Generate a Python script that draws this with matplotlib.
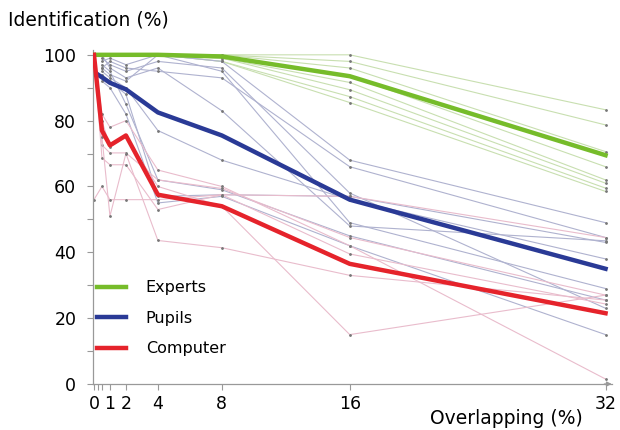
import numpy as np
import matplotlib
matplotlib.use("Agg")
import matplotlib.pyplot as plt

# ---------------------------
# Daten
# ---------------------------
x_full = [0, 0.5, 1, 2, 4, 8, 16, 32]
x_pupil = [0.5, 1, 2, 4, 8, 16, 32]
x_pupil_mean = [0.25, 1, 2, 4, 8, 16, 32]

experts_mean = [100, 100, 100, 100, 100, 99.5, 93.5, 69.5]
pupils_mean = [94, 91.5, 89.5, 82.5, 75.5, 56, 35]
computer_mean = [100, 77, 72.5, 75.5, 57.5, 54, 36.5, 21.5]

experts_single = [
    [100, 100, 100, 100, 100, 100, 100, 83.3],
    [100, 100, 100, 100, 100, 100, 98, 78.7],
    [100, 100, 100, 100, 100, 100, 96, 70.6],
    [100, 100, 100, 100, 100, 99, 93.6, 66],
    [100, 100, 100, 100, 100, 99, 91.6, 62],
    [100, 100, 100, 100, 100, 99, 89.4, 61],
    [100, 100, 100, 100, 100, 98, 87.3, 59.5],
    [100, 100, 100, 100, 100, 98, 85.5, 58.5],
]

pupils_single = [
    [98, 99, 97, 100, 98, 68, 49],
    [96, 98, 96, 95, 93, 66, 44.5],
    [100, 96, 93, 96, 83, 48, 43.5],
    [95, 93, 90, 77, 68, 56, 38],
    [97, 95, 85, 62, 59, 45, 25.5],
    [94, 92, 88, 57, 57.5, 57, 43],
    [92, 90, 82, 55, 57, 42, 15],
    [96, 94, 92, 100, 95, 49, 29],
    [99, 97, 95, 98, 96, 58, 23],
]

computer_single = [
    [56, 60, 56, 56, 56, 57.5, 57, 44.5],
    [100, 72.6, 70.2, 70.2, 62, 59.4, 44.5, 27],
    [100, 68.7, 66.6, 66.6, 53, 57.5, 39.5, 24.3],
    [100, 75, 51, 70, 43.6, 41.4, 33, 25.5],
    [100, 80, 72, 75, 60, 54, 15, 27],
    [100, 82, 78, 80, 65, 60, 42, 1.5],
]

xtick_pos = [0, 1, 2, 4, 8, 16, 32]
xtick_minor = [0.25, 0.5]

# ---------------------------
# Farben
# ---------------------------
c_exp, c_pup, c_com = '#76bc2a', '#2a3a96', '#e5232b'
c_exp_l, c_pup_l, c_com_l = '#c8dfb0', '#afb2cf', '#e9bccc'

fig = plt.figure(figsize=(6.2, 4.3), dpi=100)
ax = fig.add_axes([0.15, 0.107, 0.837, 0.777])

for vals in experts_single:
    ax.plot(x_full, vals, '-', color=c_exp_l, lw=0.8, marker='.', ms=2,
            mfc='#777', mec='#777', zorder=1)
for vals in pupils_single:
    ax.plot(x_pupil, vals, '-', color=c_pup_l, lw=0.8, marker='.', ms=2,
            mfc='#777', mec='#777', zorder=1)
for vals in computer_single:
    ax.plot(x_full, vals, '-', color=c_com_l, lw=0.8, marker='.', ms=2,
            mfc='#777', mec='#777', zorder=1)

ax.plot(x_full, experts_mean, color=c_exp, lw=3.2, label='Experts', zorder=3)
ax.plot(x_pupil_mean, pupils_mean, color=c_pup, lw=3.2, label='Pupils', zorder=3)
ax.plot(x_full, computer_mean, color=c_com, lw=3.2, label='Computer', zorder=3)

ax.set_xlim(-0.06, 32.4)
ax.set_ylim(0, 101.5)

ax.set_xticks(xtick_pos)
ax.set_xticks(xtick_minor, minor=True)
ax.set_xticklabels([str(v) for v in xtick_pos], fontsize=12.5)
ax.set_yticks(np.arange(0, 101, 20))
ax.set_yticks(np.arange(10, 100, 20), minor=True)
ax.set_yticklabels([str(v) for v in range(0, 101, 20)], fontsize=12.5)
ax.tick_params(which='both', direction='out', length=4, width=0.8, color='#999')
ax.tick_params(axis='y', pad=8)
ax.tick_params(axis='x', pad=4)

for s in ['top', 'right']:
    ax.spines[s].set_visible(False)
for s in ['left', 'bottom']:
    ax.spines[s].set_color('#999')
    ax.spines[s].set_linewidth(0.9)
ax.annotate('', xy=(1.005, 0), xycoords='axes fraction', xytext=(0.98, 0),
            arrowprops=dict(arrowstyle='-|>', color='#999', lw=0.9,
                            mutation_scale=7), annotation_clip=False)

fig.text(8 / 620, 1 - 20 / 430, 'Identification (%)', fontsize=13.5,
         ha='left', va='center')
fig.text(583 / 620, 1 - 418 / 430, 'Overlapping (%)', fontsize=13.5,
         ha='right', va='center')

ax.legend(loc='upper left', bbox_to_anchor=(0.008, 0.31), frameon=False,
          fontsize=11.5, handlelength=1.8, handletextpad=1.25,
          labelspacing=0.97, borderpad=0.0, borderaxespad=0.0)

fig.savefig('out.png', dpi=100)
